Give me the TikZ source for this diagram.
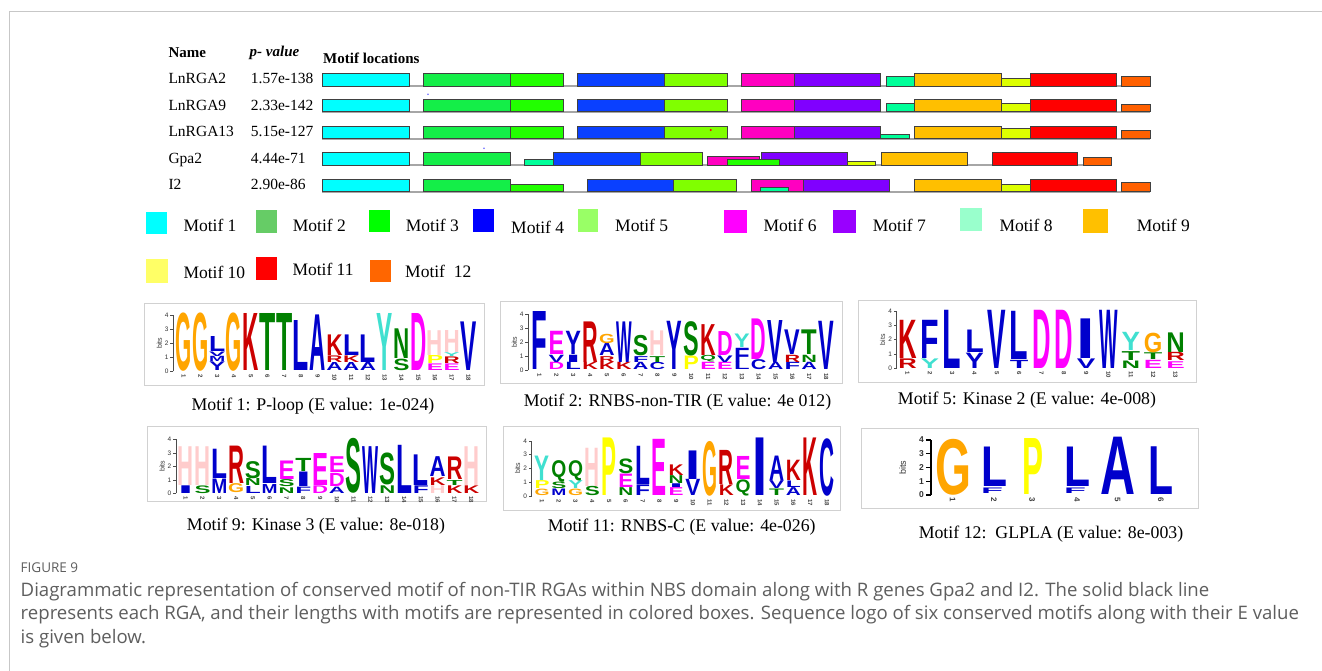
\documentclass[tikz,border=0pt]{standalone}
\usepackage{fontspec}
\usepackage{graphicx}
\setmainfont{Liberation Serif}
\newfontfamily\logofont{Liberation Sans}
\newfontfamily\capfont{Open Sans}

% bar / legend colours
\definecolor{mA}{HTML}{00FFFF}
\definecolor{mB}{HTML}{14EE48}
\definecolor{mC}{HTML}{22FF00}
\definecolor{mD}{HTML}{0A40FF}
\definecolor{mE}{HTML}{80FF00}
\definecolor{mF}{HTML}{FF00C0}
\definecolor{mG}{HTML}{8000FF}
\definecolor{mH}{HTML}{00FF99}
\definecolor{mI}{HTML}{FFBF00}
\definecolor{mJ}{HTML}{DDFF00}
\definecolor{mK}{HTML}{FF0000}
\definecolor{mL}{HTML}{FF6000}
\definecolor{kA}{HTML}{00FFFF}
\definecolor{kB}{HTML}{66CC66}
\definecolor{kC}{HTML}{00FF00}
\definecolor{kD}{HTML}{0000FF}
\definecolor{kE}{HTML}{99FF66}
\definecolor{kF}{HTML}{FF00FF}
\definecolor{kG}{HTML}{9900FF}
\definecolor{kH}{HTML}{99FFCC}
\definecolor{kI}{HTML}{FFC000}
\definecolor{kJ}{HTML}{FFFF66}
\definecolor{kK}{HTML}{FF0000}
\definecolor{kL}{HTML}{FF6600}
% residue colours of the sequence logos
\definecolor{lgB}{HTML}{0000CC}
\definecolor{lgR}{HTML}{CC0000}
\definecolor{lgG}{HTML}{008000}
\definecolor{lgO}{HTML}{FFA500}
\definecolor{lgM}{HTML}{FF00FF}
\definecolor{lgC}{HTML}{40E0D0}
\definecolor{lgY}{HTML}{FFFF00}
\definecolor{lgP}{HTML}{FFCCCC}
\definecolor{captext}{HTML}{5E5E5E}

\tikzset{
  glyph/.style={anchor=south west,inner sep=0pt,outer sep=0pt},
  logoaxis/.style={draw=black!70,line width=0.6pt},
  ticklab/.style={anchor=east,inner sep=0pt,font=\logofont\fontsize{6.5}{7}\selectfont,text=black!80},
  bitslab/.style={rotate=90,inner sep=0pt,font=\logofont\fontsize{7}{8}\selectfont,text=black!80},
  collab/.style={rotate=-90,anchor=west,inner sep=0pt,font=\logofont\bfseries\fontsize{6}{7}\selectfont,text=black!75},
  panel/.style={draw=black!18,line width=0.9pt},
  motifbox/.style={draw=black!75,line width=0.9pt},
  seqline/.style={draw=black!35,line width=2pt},
  hdr/.style={anchor=base west,inner sep=0pt,font=\fontsize{15}{18}\selectfont\bfseries},
  rowlab/.style={anchor=base west,inner sep=0pt,font=\fontsize{15.5}{18}\selectfont},
  keylab/.style={anchor=base west,inner sep=0pt,font=\fontsize{17.5}{20}\selectfont},
  logocap/.style={anchor=base,inner sep=0pt,font=\fontsize{17.8}{21}\selectfont},
  captxt/.style={anchor=base west,inner sep=0pt,text=captext,font=\capfont\fontsize{18.6}{22}\selectfont},
  frame/.style={draw=black!22,line width=1pt},
}

\newcounter{lgn}
% one stretched residue: left x, width, from (bits), to (bits), colour, letter
\newcommand\lglyph[6]{%
  \stepcounter{lgn}%
  \pgfmathsetmacro\lyy{\ly-(#3)*\lb-0.2}%
  \pgfmathsetlengthmacro\lhh{max(((#4)-(#3))*\lb-0.4,0.6)}%
  \pgfmathsetlengthmacro\lww{#2}%
  \node[glyph,text=#5] (lg\arabic{lgn}) at (#1,\lyy) {\resizebox*{\lww}{\lhh}{\logofont\bfseries #6}};}
% residue in a regular column grid
\newcommand\lt[5]{%
  \pgfmathsetmacro\lxx{\lx+((#1)-1)*\lp}%
  \lglyph{\lxx}{\lw}{#2}{#3}{#4}{#5}}
% column grid: first column left x, pitch, letter width
\newcommand\lgrid[3]{\def\lx{#1}\def\lp{#2}\def\lw{#3}}
% y axis of a logo: axis x, zero line y, pixels per bit
\newcommand\laxis[3]{%
  \def\ly{#2}\def\lb{#3}%
  \draw[logoaxis] (#1,#2) -- ++(0,-4*#3);
  \foreach \k in {0,...,4}{
    \draw[logoaxis] (#1,#2-\k*#3) -- ++(-3,0);
    \node[ticklab] at (#1-4.5,#2-\k*#3) {\k};}
  \node[bitslab] at (#1-14,#2-2*#3) {bits};}
% position numbers below the columns
\newcommand\lnums[1]{%
  \foreach \k in {1,...,#1}{
    \pgfmathsetmacro\cx{\lx+(\k-1)*\lp+\lw/2}
    \node[collab] at (\cx,\ly+3) {\k};}}
% motif box on a sequence line: x1, x2, top, bottom, colour
\newcommand\mot[5]{\filldraw[motifbox,fill=#5] (#1,#3) rectangle (#2,#4);}

\begin{document}
\begin{tikzpicture}[x=1pt,y=-1pt]
\useasboundingbox (0,0) rectangle (1322,670);
\fill[white] (0,0) rectangle (1322,670);
\draw[frame] (9.5,680) -- (9.5,11.7) -- (1322,11.7);

% ---------- header ----------
\node[hdr] (hname) at (168.3,57.3) {Name};
\node[hdr,font=\fontsize{15}{18}\selectfont\bfseries\itshape] (hpval) at (249.5,56.7) {p- value};
\node[hdr] (hloc) at (323,63.3) {Motif locations};

% ---------- sequence names and p-values ----------
\node[rowlab] (n1) at (168.3,83.3) {LnRGA2};
\node[rowlab] (n2) at (168.3,110) {LnRGA9};
\node[rowlab] (n3) at (168.3,136.7) {LnRGA13};
\node[rowlab] (n4) at (168.3,163.3) {Gpa2};
\node[rowlab] (n5) at (168.3,189) {I2};
\node[rowlab] (p1) at (250.7,83.3) {1.57e-138};
\node[rowlab] (p2) at (250.7,110) {2.33e-142};
\node[rowlab] (p3) at (250.7,136.7) {5.15e-127};
\node[rowlab] (p4) at (250.7,163.3) {4.44e-71};
\node[rowlab] (p5) at (250.7,189) {2.90e-86};

% ---------- motif maps ----------
% LnRGA2
\draw[seqline] (322,86) -- (1150,86);
\mot{322}{409}{73.5}{86}{mA}\mot{423}{510}{73.5}{86}{mB}\mot{510}{563}{73.5}{86}{mC}
\mot{577}{664}{73.5}{86}{mD}\mot{664}{727}{73.5}{86}{mE}\mot{741}{794}{73.5}{86}{mF}
\mot{794}{880}{73.5}{86}{mG}\mot{886}{914}{76.7}{86}{mH}\mot{914}{1001}{73.5}{86}{mI}
\mot{1001}{1030}{78}{86}{mJ}\mot{1030}{1116}{73.5}{86}{mK}\mot{1121}{1150}{76.7}{86}{mL}
% LnRGA9
\draw[seqline] (322,111.7) -- (1150,111.7);
\mot{322}{409}{99.2}{111.7}{mA}\mot{423}{510}{99.2}{111.7}{mB}\mot{510}{563}{99.2}{111.7}{mC}
\mot{577}{664}{99.2}{111.7}{mD}\mot{664}{727}{99.2}{111.7}{mE}\mot{741}{794}{99.2}{111.7}{mF}
\mot{794}{880}{99.2}{111.7}{mG}\mot{886}{914}{103.3}{111.7}{mH}\mot{914}{1001}{99.2}{111.7}{mI}
\mot{1001}{1030}{103.3}{111.7}{mJ}\mot{1030}{1116}{99.2}{111.7}{mK}\mot{1121}{1150}{104.3}{111.7}{mL}
% LnRGA13
\draw[seqline] (322,138.7) -- (1150,138.7);
\mot{322}{409}{126.2}{138.7}{mA}\mot{423}{510}{126.2}{138.7}{mB}\mot{510}{563}{126.2}{138.7}{mC}
\mot{577}{664}{126.2}{138.7}{mD}\mot{664}{727}{126.2}{138.7}{mE}\mot{741}{794}{126.2}{138.7}{mF}
\mot{794}{880}{126.2}{138.7}{mG}\mot{880}{909}{134}{138.7}{mH}\mot{914}{1001}{126.2}{138.7}{mI}
\mot{1001}{1030}{128.7}{138.7}{mJ}\mot{1030}{1116}{126.2}{138.7}{mK}\mot{1121}{1150}{130.7}{138.7}{mL}
% Gpa2
\draw[seqline] (322,165) -- (1111,165);
\mot{322}{409}{152.5}{165}{mA}\mot{423}{510}{152.5}{165}{mB}\mot{524}{553}{159}{165}{mH}
\mot{553}{640}{152.5}{165}{mD}\mot{640}{702}{152.5}{165}{mE}\mot{707}{759}{156}{165}{mF}
\mot{761}{847}{152.5}{165}{mG}\mot{727}{779}{159.3}{165}{mC}\mot{847}{875}{161.3}{165}{mJ}
\mot{881}{967}{152.5}{165}{mI}\mot{992}{1077}{152.5}{165}{mK}\mot{1083}{1111}{157.3}{165}{mL}
% I2
\draw[seqline] (322,191.7) -- (1150,191.7);
\mot{322}{409}{179.2}{191.7}{mA}\mot{423}{510}{179.2}{191.7}{mB}\mot{510}{563}{184}{191.7}{mC}
\mot{587}{673}{179.2}{191.7}{mD}\mot{673}{736}{179.2}{191.7}{mE}\mot{751}{803}{179.2}{191.7}{mF}
\mot{803}{889}{179.2}{191.7}{mG}\mot{760}{788}{187.7}{191.7}{mH}\mot{914}{1001}{179.2}{191.7}{mI}
\mot{1001}{1030}{184.3}{191.7}{mJ}\mot{1030}{1116}{179.2}{191.7}{mK}\mot{1121}{1150}{182.7}{191.7}{mL}
% stray specks
\fill[blue!60] (428,94.3) circle (0.9);
\fill[blue!60] (484,148.3) circle (0.9);
\fill[red] (710.7,130) circle (1.1);

% ---------- key ----------
\fill[kA] (146,212.3) rectangle (166.7,234.3);   \node[keylab] (k1) at (183.3,231.7) {Motif 1};
\fill[kB] (255.7,210) rectangle (277.3,232.7);   \node[keylab] (k2) at (292.7,231.7) {Motif 2};
\fill[kC] (369.3,209.7) rectangle (390,232);     \node[keylab] (k3) at (405.7,231.7) {Motif 3};
\fill[kD] (473.3,209.3) rectangle (494.3,231.7); \node[keylab] (k4) at (511,233.3) {Motif 4};
\fill[kE] (577.7,209.3) rectangle (598.3,231.7); \node[keylab] (k5) at (615,231.7) {Motif 5};
\fill[kF] (724.3,210) rectangle (746.7,232.7);   \node[keylab] (k6) at (763.3,231.7) {Motif 6};
\fill[kG] (833.3,210) rectangle (856,233);       \node[keylab] (k7) at (872.7,231.7) {Motif 7};
\fill[kH] (960,208.3) rectangle (982.3,230.7);   \node[keylab] (k8) at (999.3,231.7) {Motif 8};
\fill[kI] (1082.7,209) rectangle (1107.7,233.3); \node[keylab] (k9) at (1136.7,231.7) {Motif 9};
\fill[kJ] (145.7,259.3) rectangle (167.7,282.7); \node[keylab] (k10) at (183.3,278.3) {Motif 10};
\fill[kK] (255.7,257.3) rectangle (276.7,280);   \node[keylab] (k11) at (292.3,275.3) {Motif 11};
\fill[kL] (370,260) rectangle (391,282);         \node[keylab] (k12) at (405,277.3) {Motif\ \ 12};

% ---------- logo 1: P-loop ----------
\draw[panel] (144.3,303.3) rectangle (484.3,385);
\laxis{173.3}{371}{14}
\lgrid{175.7}{16.75}{16.2}
\lt{1}{0}{4.2}{lgO}{G}
\lt{2}{0}{4.2}{lgO}{G}
\lt{3}{0}{0.65}{lgB}{Y}\lt{3}{0.65}{1.05}{lgB}{M}\lt{3}{1.05}{1.4}{lgB}{V}\lt{3}{1.4}{2.5}{lgB}{L}
\lt{4}{0}{4.2}{lgO}{G}
\lt{5}{0}{4.1}{lgR}{K}
\lt{6}{0}{4.1}{lgG}{T}
\lt{7}{0}{4.1}{lgG}{T}
\lt{8}{0}{3.6}{lgB}{L}
\lt{9}{0}{4.0}{lgB}{A}
\lt{10}{0}{0.6}{lgB}{A}\lt{10}{0.6}{1.1}{lgR}{R}\lt{10}{1.1}{2.6}{lgR}{K}
\lt{11}{0}{0.6}{lgB}{A}\lt{11}{0.6}{1.1}{lgR}{K}\lt{11}{1.1}{2.6}{lgB}{L}
\lt{12}{0}{0.6}{lgB}{A}\lt{12}{0.6}{2.6}{lgB}{L}
\lt{13}{0}{4.1}{lgC}{Y}
\lt{14}{0}{0.85}{lgG}{S}\lt{14}{0.85}{3.0}{lgG}{N}
\lt{15}{0}{4.1}{lgM}{D}
\lt{16}{0}{0.5}{lgM}{E}\lt{16}{0.5}{1.1}{lgY}{P}\lt{16}{1.1}{2.9}{lgP}{H}
\lt{17}{0}{0.5}{lgM}{E}\lt{17}{0.5}{1.0}{lgR}{R}\lt{17}{1.0}{1.3}{lgC}{Y}\lt{17}{1.3}{2.9}{lgP}{H}
\lt{18}{0}{3.5}{lgB}{V}
\lnums{18}
\node[logocap] (c1) at (313,410) {Motif 1: P-loop (E value: 1e-024)};

% ---------- logo 2: RNBS-non-TIR ----------
\draw[panel] (500,301.7) rectangle (842.7,383.3);
\laxis{528.3}{370}{13.9}
\lgrid{531.7}{16.86}{15.6}
\lt{1}{0}{4.2}{lgB}{F}
\lt{2}{0}{0.55}{lgM}{D}\lt{2}{0.55}{1.1}{lgB}{V}\lt{2}{1.1}{2.8}{lgM}{E}
\lt{3}{0}{0.55}{lgB}{L}\lt{3}{0.55}{1.1}{lgB}{I}\lt{3}{1.1}{2.8}{lgB}{Y}
\lt{4}{0}{0.55}{lgR}{K}\lt{4}{0.55}{3.5}{lgR}{R}
\lt{5}{0}{0.55}{lgR}{K}\lt{5}{0.55}{1.0}{lgR}{R}\lt{5}{1.0}{1.9}{lgB}{A}\lt{5}{1.9}{2.6}{lgO}{G}
\lt{6}{0}{0.55}{lgR}{K}\lt{6}{0.55}{3.5}{lgB}{W}
\lt{7}{0}{0.55}{lgB}{A}\lt{7}{0.55}{1.0}{lgB}{F}\lt{7}{1.0}{2.5}{lgG}{S}
\lt{8}{0}{0.55}{lgB}{C}\lt{8}{0.55}{1.0}{lgG}{T}\lt{8}{1.0}{2.8}{lgP}{H}
\lt{9}{0}{3.5}{lgB}{Y}
\lt{10}{0}{1.0}{lgY}{P}\lt{10}{1.0}{3.5}{lgG}{S}
\lt{11}{0}{0.55}{lgM}{E}\lt{11}{0.55}{1.05}{lgG}{Q}\lt{11}{1.05}{3.3}{lgR}{K}
\lt{12}{0}{0.55}{lgM}{E}\lt{12}{0.55}{1.05}{lgB}{V}\lt{12}{1.05}{2.8}{lgM}{D}
\lt{13}{0}{0.55}{lgB}{L}\lt{13}{0.55}{1.6}{lgB}{F}\lt{13}{1.6}{2.6}{lgC}{Y}
\lt{14}{0}{0.75}{lgB}{C}\lt{14}{0.75}{3.7}{lgM}{D}
\lt{15}{0}{0.55}{lgB}{A}\lt{15}{0.55}{3.6}{lgB}{V}
\lt{16}{0}{0.55}{lgB}{F}\lt{16}{0.55}{1.1}{lgR}{R}\lt{16}{1.1}{2.9}{lgB}{V}
\lt{17}{0}{0.55}{lgB}{A}\lt{17}{0.55}{1.1}{lgG}{N}\lt{17}{1.1}{2.9}{lgG}{T}
\lt{18}{0}{3.5}{lgB}{V}
\lnums{18}
\node[logocap] (c2) at (677.5,406.7) {Motif 2: RNBS-non-TIR (E value: 4e 012)};

% ---------- logo 3: Kinase 2 ----------
\draw[panel] (858.3,300) rectangle (1196.7,382.3);
\laxis{896.7}{368.3}{14.3}
\lgrid{898.3}{22.33}{18.5}
\lt{1}{0}{0.7}{lgR}{R}\lt{1}{0.7}{3.4}{lgR}{K}
\lt{2}{0}{0.7}{lgC}{Y}\lt{2}{0.7}{3.4}{lgB}{F}
\lt{3}{0}{4.1}{lgB}{L}
\lt{4}{0}{1.1}{lgB}{Y}\lt{4}{1.1}{2.7}{lgB}{L}
\lt{5}{0}{4.1}{lgB}{V}
\lt{6}{0}{0.6}{lgB}{T}\lt{6}{0.6}{4.0}{lgB}{L}
\lt{7}{0}{4.1}{lgM}{D}
\lt{8}{0}{4.1}{lgM}{D}
\lt{9}{0}{0.7}{lgB}{V}\lt{9}{0.7}{3.5}{lgB}{I}
\lt{10}{0}{4.1}{lgB}{W}
\lt{11}{0}{0.55}{lgG}{N}\lt{11}{0.55}{1.2}{lgG}{T}\lt{11}{1.2}{2.5}{lgC}{Y}
\lt{12}{0}{0.6}{lgM}{E}\lt{12}{0.6}{1.1}{lgG}{T}\lt{12}{1.1}{2.5}{lgO}{G}
\lt{13}{0}{0.5}{lgM}{E}\lt{13}{0.5}{1.1}{lgR}{R}\lt{13}{1.1}{2.5}{lgG}{N}
\lnums{13}
\node[logocap] (c3) at (1027,404.3) {Motif 5: Kinase 2 (E value: 4e-008)};

% ---------- logo 4: Kinase 3 ----------
\draw[panel] (147.3,426.7) rectangle (486,501.7);
\laxis{176}{493.3}{13.5}
\lgrid{177.7}{16.8}{16}
\lt{1}{0}{0.6}{lgB}{I}\lt{1}{0.6}{3.5}{lgP}{H}
\lt{2}{0}{0.6}{lgG}{S}\lt{2}{0.6}{3.5}{lgP}{H}
\lt{3}{0}{1.1}{lgB}{M}\lt{3}{1.1}{3.3}{lgB}{L}
\lt{4}{0}{0.7}{lgO}{G}\lt{4}{0.7}{3.5}{lgR}{R}
\lt{5}{0}{0.55}{lgB}{L}\lt{5}{0.55}{1.1}{lgG}{N}\lt{5}{1.1}{2.4}{lgG}{S}
\lt{6}{0}{0.7}{lgB}{M}\lt{6}{0.7}{3.5}{lgB}{L}
\lt{7}{0}{0.45}{lgG}{N}\lt{7}{0.45}{1.0}{lgG}{S}\lt{7}{1.0}{2.4}{lgM}{E}
\lt{8}{0}{0.5}{lgB}{F}\lt{8}{0.5}{1.6}{lgB}{I}\lt{8}{1.6}{2.6}{lgG}{T}
\lt{9}{0}{0.6}{lgM}{D}\lt{9}{0.6}{3.0}{lgM}{E}
\lt{10}{0}{0.5}{lgB}{A}\lt{10}{0.5}{1.5}{lgM}{D}\lt{10}{1.5}{2.7}{lgM}{E}
\lt{11}{0}{4.1}{lgG}{S}
\lt{12}{0}{3.5}{lgB}{W}
\lt{13}{0}{0.6}{lgG}{N}\lt{13}{0.6}{3.0}{lgG}{S}
\lt{14}{0}{3.6}{lgB}{L}
\lt{15}{0}{0.6}{lgB}{F}\lt{15}{0.6}{2.9}{lgB}{L}
\lt{16}{0}{0.6}{lgP}{H}\lt{16}{0.6}{1.2}{lgR}{K}\lt{16}{1.2}{2.7}{lgB}{A}
\lt{17}{0}{0.6}{lgR}{K}\lt{17}{0.6}{1.0}{lgG}{T}\lt{17}{1.0}{2.7}{lgR}{R}
\lt{18}{0}{0.6}{lgR}{K}\lt{18}{0.6}{3.5}{lgP}{H}
\lnums{18}
\node[logocap] (c4) at (316,530) {Motif 9: Kinase 3 (E value: 8e-018)};

% ---------- logo 5: RNBS-C ----------
\draw[panel] (503.3,426.7) rectangle (840,510);
\laxis{531.7}{496}{13.8}
\lgrid{534.5}{16.76}{15}
\lt{1}{0}{0.5}{lgO}{G}\lt{1}{0.5}{1.1}{lgY}{P}\lt{1}{1.1}{2.9}{lgC}{Y}
\lt{2}{0}{0.5}{lgB}{M}\lt{2}{0.5}{1.0}{lgG}{S}\lt{2}{1.0}{2.6}{lgG}{Q}
\lt{3}{0}{0.5}{lgO}{G}\lt{3}{0.5}{1.1}{lgC}{Y}\lt{3}{1.1}{2.6}{lgG}{Q}
\lt{4}{0}{0.7}{lgG}{S}\lt{4}{0.7}{3.5}{lgP}{H}
\lt{5}{0}{4.2}{lgY}{P}
\lt{6}{0}{0.6}{lgG}{N}\lt{6}{0.6}{1.6}{lgM}{E}\lt{6}{1.6}{2.7}{lgG}{S}
\lt{7}{0}{0.8}{lgB}{F}\lt{7}{0.8}{3.6}{lgB}{L}
\lt{8}{0}{4.1}{lgM}{E}
\lt{9}{0}{0.6}{lgM}{E}\lt{9}{0.6}{0.9}{lgB}{I}\lt{9}{0.9}{1.5}{lgG}{N}\lt{9}{1.5}{2.3}{lgR}{K}
\lt{10}{0}{1.2}{lgB}{V}\lt{10}{1.2}{3.3}{lgB}{I}
\lt{11}{0}{4.0}{lgO}{G}
\lt{12}{0}{0.8}{lgR}{K}\lt{12}{0.8}{3.3}{lgR}{R}
\lt{13}{0}{1.2}{lgG}{Q}\lt{13}{1.2}{2.9}{lgM}{E}
\lt{14}{0}{4.2}{lgB}{I}
\lt{15}{0}{0.5}{lgG}{T}\lt{15}{0.5}{1.1}{lgB}{V}\lt{15}{1.1}{2.9}{lgB}{A}
\lt{16}{0}{0.6}{lgB}{A}\lt{16}{0.6}{1.1}{lgB}{L}\lt{16}{1.1}{2.6}{lgR}{K}
\lt{17}{0}{4.2}{lgR}{K}
\lt{18}{0}{4.2}{lgB}{C}
\lnums{18}
\node[logocap] (c5) at (681.7,531.7) {Motif 11: RNBS-C (E value: 4e-026)};

% ---------- logo 6: GLPLA ----------
\draw[panel] (861.7,428.3) rectangle (1198.3,508.3);
\def\ly{495}\def\lb{13.75}
\draw[black,line width=1.4pt] (931,495) -- (931,440);
\foreach \k in {0,...,4}{
  \draw[black,line width=1.4pt] (931,495-\k*13.75) -- ++(-5,0);
  \node[ticklab,font=\logofont\bfseries\fontsize{8.5}{9}\selectfont] (t6\k) at (924,495-\k*13.75) {\k};}
\node[bitslab,font=\logofont\fontsize{9}{10}\selectfont] (b6) at (902.7,467.5) {bits};
\lglyph{935}{36}{0}{4.1}{lgO}{G}
\lglyph{981}{26}{0.6}{3.5}{lgB}{L}\lglyph{981}{22}{0.12}{0.55}{lgB}{F}
\lglyph{1022}{21}{0}{4.1}{lgY}{P}
\lglyph{1064}{26}{0.6}{3.5}{lgB}{L}\lglyph{1064}{22}{0.12}{0.55}{lgB}{F}
\lglyph{1100}{35}{0}{4.2}{lgB}{A}
\lglyph{1148}{25}{0}{3.5}{lgB}{L}
\foreach \cx/\k in {952.7/1,993.8/2,1032.2/3,1077.2/4,1117.5/5,1160.8/6}
  \node[collab,font=\logofont\bfseries\fontsize{8}{9}\selectfont] (n6\k) at (\cx,497.5) {\k};
\node[logocap] (c6) at (1051,538.3) {Motif 12:\ \ GLPLA (E value: 8e-003)};

% ---------- figure caption ----------
\node[captxt,font=\capfont\fontsize{13.5}{16}\selectfont] (fig) at (20.5,572) {FIGURE 9};
\node[captxt] (cap1) at (20.5,596) {Diagrammatic representation of conserved motif of non-TIR RGAs within NBS domain along with R genes Gpa2 and I2. The solid black line};
\node[captxt] (cap2) at (20.5,619.5) {represents each RGA, and their lengths with motifs are represented in colored boxes. Sequence logo of six conserved motifs along with their E value};
\node[captxt] (cap3) at (20.5,643) {is given below.};
\end{tikzpicture}
\end{document}
